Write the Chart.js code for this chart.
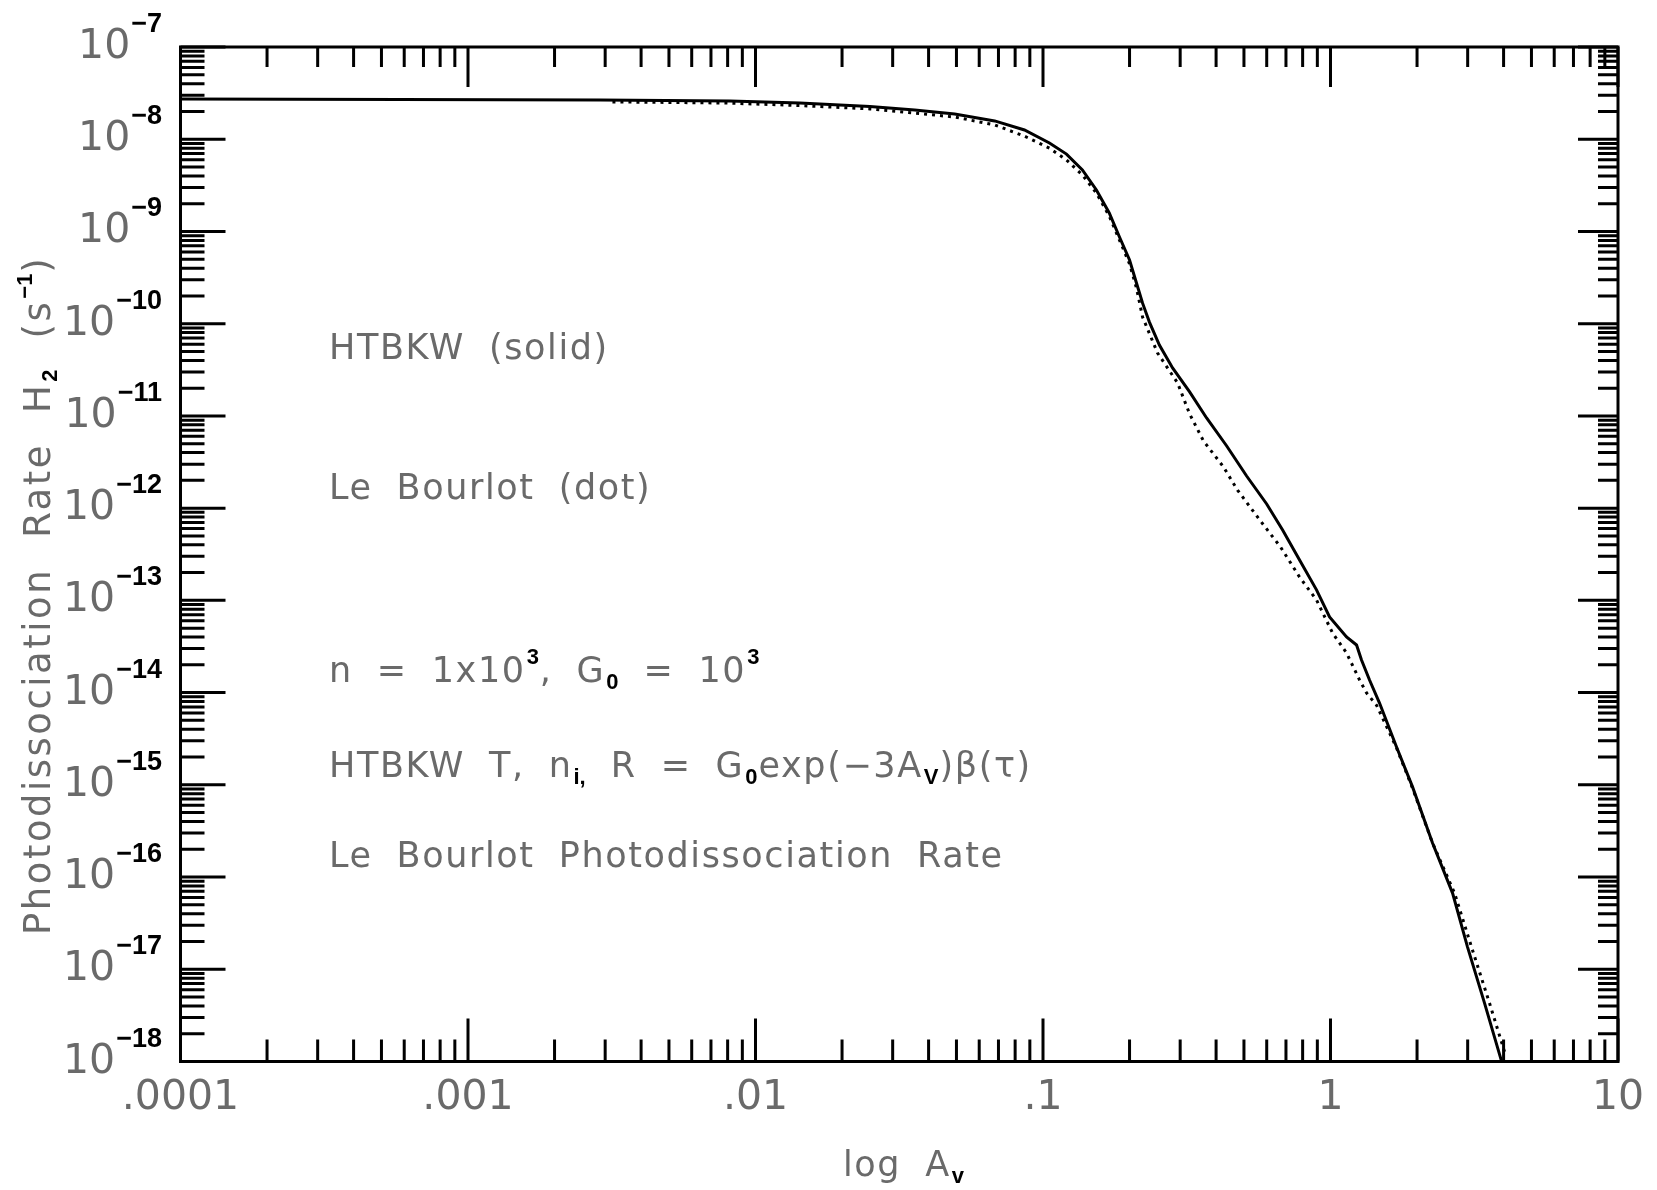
<!DOCTYPE html>
<html>
<head>
<meta charset="utf-8">
<script src="https://cdn.jsdelivr.net/npm/chart.js@4.4.0/dist/chart.umd.min.js"></script>
<style>
html,body{margin:0;padding:0;background:#fff;}
#wrap{width:1657px;height:1190px;position:relative;}
canvas{display:block;}
</style>
</head>
<body>
<div id="wrap"><canvas id="c" width="1657" height="1190"></canvas></div>
<script>
// ---------------- DATA ----------------
const xMin = 1e-4, xMax = 10;
const yMin = 1e-18, yMax = 1e-7;
const xTickLabels = ['.0001', '.001', '.01', '.1', '1', '10'];
const xTickValues = [1e-4, 1e-3, 1e-2, 1e-1, 1, 10];
const yTickExponents = [-7, -8, -9, -10, -11, -12, -13, -14, -15, -16, -17, -18];

// HTBKW (solid)
const htbkwAv = [1e-4, 5.8e-4, 2.88e-3, 8.15e-3, 0.01426, 0.025, 0.0358, 0.0493, 0.0679, 0.0862,
  0.1053, 0.1207, 0.1371, 0.1534, 0.170, 0.1845, 0.200, 0.2114, 0.222, 0.2345,
  0.254, 0.2823, 0.3236, 0.3707, 0.4355, 0.5108, 0.5998, 0.6814, 0.7805, 0.894,
  0.9924, 1.137, 1.232, 1.282, 1.367, 1.481, 1.697, 1.929, 2.264, 2.658,
  2.997, 3.434, 3.934];
const htbkwRate = [2.73e-8, 2.70e-8, 2.66e-8, 2.60e-8, 2.47e-8, 2.26e-8, 2.07e-8, 1.88e-8, 1.58e-8, 1.26e-8,
  9.1e-9, 6.9e-9, 4.64e-9, 2.82e-9, 1.585e-9, 8.7e-10, 4.91e-10, 2.76e-10, 1.67e-10, 1.04e-10,
  5.87e-11, 3.31e-11, 1.82e-11, 9.5e-12, 4.72e-12, 2.23e-12, 1.11e-12, 5.80e-13, 2.74e-13, 1.30e-13,
  6.6e-14, 4.01e-14, 3.28e-14, 2.26e-14, 1.37e-14, 7.7e-15, 2.57e-15, 9.5e-16, 2.34e-16, 6.7e-17,
  1.74e-17, 4.3e-18, 1.01e-18];

// Le Bourlot (dot)
const bourlotAv = [3.18e-3, 7.83e-3, 0.01426, 0.025, 0.0358, 0.0493, 0.0679, 0.0862, 0.1053, 0.1207,
  0.1371, 0.1534, 0.170, 0.1845, 0.200, 0.2114, 0.222, 0.2503, 0.2938, 0.3236,
  0.3616, 0.4246, 0.4748, 0.5572, 0.670, 0.7805, 0.894, 1.0165, 1.137, 1.262,
  1.335, 1.446, 1.697, 1.929, 2.264, 2.701, 3.094, 3.573, 4.062];
const bourlotRate = [2.54e-8, 2.47e-8, 2.32e-8, 2.13e-8, 1.92e-8, 1.74e-8, 1.43e-8, 1.08e-8, 8.0e-9, 5.96e-9,
  4.09e-9, 2.61e-9, 1.47e-9, 8.07e-10, 4.44e-10, 2.44e-10, 1.18e-10, 4.81e-11, 2.28e-11, 1.05e-11,
  5.35e-12, 2.79e-12, 1.57e-12, 8.02e-13, 3.79e-13, 1.79e-13, 1.01e-13, 4.43e-14, 2.69e-14, 1.37e-14,
  9.9e-15, 7.3e-15, 2.51e-15, 9.2e-16, 2.34e-16, 6.7e-17, 1.74e-17, 4.3e-18, 1.18e-18];

// Annotation texts: [text, kind] kind m=main, b=subscript, p=superscript, ' '=word gap
const noteLines = [
  [['HTBKW','m'],[' '],['(solid)','m']],
  [['Le','m'],[' '],['Bourlot','m'],[' '],['(dot)','m']],
  [['n','m'],[' '],['=','m'],[' '],['1x10','m'],['3','p'],[',','m'],[' '],['G','m'],['0','b'],[' '],['=','m'],[' '],['10','m'],['3','p']],
  [['HTBKW','m'],[' '],['T,','m'],[' '],['n','m'],['i,','b'],[' '],['R','m'],[' '],['=','m'],[' '],['G','m'],['0','b'],['exp(\u22123A','m'],['V','b'],[')\u03b2(\u03c4)','m']],
  [['Le','m'],[' '],['Bourlot','m'],[' '],['Photodissociation','m'],[' '],['Rate','m']]
];
const xTitle = [['log','m'],[' '],['A','m'],['v','b']];
const yTitle = [['Photodissociation','m'],[' '],['Rate','m'],[' '],['H','m'],['2','b'],[' '],['(s','m'],['\u22121','p'],[')','m']];

// ---------------- STYLE / LAYOUT ----------------
const GRAY = '#6a6a6a';
const SUB_FONT = 'bold 22px "Liberation Sans"';
const noteStyle = {font: '35px "DejaVu Sans"', ls: '1.6px', gap: 24};
const yTitleStyle = {font: '37px "DejaVu Sans"', ls: '2.5px', gap: 30};
const noteX = 329;
const noteBaselines = [359, 499, 682, 777, 867];

function drawRich(ctx, x, y, segs, st) {
  let cx = x;
  ctx.textAlign = 'left';
  ctx.textBaseline = 'alphabetic';
  for (const s of segs) {
    if (s[0] === ' ') { cx += st.gap; continue; }
    if (s[1] === 'm') {
      ctx.font = st.font; ctx.fillStyle = GRAY;
      try { ctx.letterSpacing = st.ls; } catch (e) {}
      ctx.fillText(s[0], cx, y);
      cx += ctx.measureText(s[0]).width;
    } else {
      ctx.font = SUB_FONT; ctx.fillStyle = '#000';
      try { ctx.letterSpacing = '0px'; } catch (e) {}
      const dy = s[1] === 'b' ? 7 : -18;
      ctx.fillText(s[0], cx + 1, y + dy);
      cx += ctx.measureText(s[0]).width + 2;
    }
  }
  try { ctx.letterSpacing = '0px'; } catch (e) {}
}

function decadeTicks(e0, e1) {
  const t = [];
  for (let e = e0; e < e1; e++) {
    for (let k = 1; k <= 9; k++) t.push({value: k * Math.pow(10, e), major: k === 1});
  }
  t.push({value: Math.pow(10, e1), major: true});
  return t;
}

const framePlugin = {
  id: 'frame',
  afterDraw(chart) {
    const ctx = chart.ctx;
    const a = chart.chartArea;
    const xs = chart.scales.x, ys = chart.scales.y;
    ctx.save();
    ctx.strokeStyle = '#000';
    ctx.lineWidth = 3;
    ctx.lineCap = 'butt';
    ctx.beginPath();
    for (const t of decadeTicks(-4, 1)) {
      const px = xs.getPixelForValue(t.value);
      const lb = t.major ? 43 : 22, lt = t.major ? 40 : 20;
      ctx.moveTo(px, a.bottom); ctx.lineTo(px, a.bottom - lb);
      ctx.moveTo(px, a.top); ctx.lineTo(px, a.top + lt);
    }
    for (const t of decadeTicks(-18, -7)) {
      const py = ys.getPixelForValue(t.value);
      const ll = t.major ? 45 : 24, lr = t.major ? 40 : 20;
      ctx.moveTo(a.left, py); ctx.lineTo(a.left + ll, py);
      ctx.moveTo(a.right, py); ctx.lineTo(a.right - lr, py);
    }
    ctx.stroke();
    ctx.strokeRect(a.left, a.top, a.right - a.left, a.bottom - a.top);

    // y tick labels 10^n
    const rightX = 162;
    for (const e of yTickExponents) {
      const py = ys.getPixelForValue(Math.pow(10, e));
      const expStr = '\u2212' + Math.abs(e);
      ctx.font = 'bold 27px "Liberation Sans"';
      const ew = ctx.measureText(expStr).width;
      ctx.fillStyle = '#000';
      ctx.textAlign = 'left';
      ctx.textBaseline = 'alphabetic';
      ctx.fillText(expStr, rightX - ew, py - 15);
      ctx.font = '41px "DejaVu Sans"';
      ctx.fillStyle = GRAY;
      const bw = ctx.measureText('10').width;
      ctx.fillText('10', rightX - ew - 1 - bw, py + 11);
    }

    // annotations
    noteLines.forEach((ln, i) => drawRich(ctx, noteX, noteBaselines[i], ln, noteStyle));
    // axis titles
    drawRich(ctx, 843, 1176, xTitle, noteStyle);
    ctx.translate(50, 935);
    ctx.rotate(-Math.PI / 2);
    drawRich(ctx, 0, 0, yTitle, yTitleStyle);
    ctx.restore();
  }
};

const toPts = (xs, ys) => xs.map((x, i) => ({x: x, y: ys[i]}));

new Chart(document.getElementById('c'), {
  type: 'line',
  data: {
    datasets: [
      {label: 'Le Bourlot (dot)', data: toPts(bourlotAv, bourlotRate), borderColor: '#000', borderWidth: 3,
       borderDash: [3, 5], pointRadius: 0, tension: 0, fill: false},
      {label: 'HTBKW (solid)', data: toPts(htbkwAv, htbkwRate), borderColor: '#000', borderWidth: 3,
       pointRadius: 0, tension: 0, fill: false}
    ]
  },
  options: {
    responsive: false,
    animation: false,
    devicePixelRatio: 1,
    layout: {padding: {left: 0, right: 39, top: 47, bottom: 0}},
    plugins: {legend: {display: false}, tooltip: {enabled: false}},
    scales: {
      x: {
        type: 'logarithmic', min: xMin, max: xMax,
        afterBuildTicks: s => { s.ticks = xTickValues.map(v => ({value: v, major: true})); },
        afterFit: s => { s.height = 128.5; },
        grid: {display: false, drawTicks: false},
        border: {display: false},
        ticks: {
          autoSkip: false, maxRotation: 0, minRotation: 0, padding: 12,
          color: GRAY, font: {family: 'DejaVu Sans', size: 41},
          callback: (v) => { const i = xTickValues.findIndex(t => Math.abs(Math.log10(t) - Math.log10(v)) < 1e-6); return i >= 0 ? xTickLabels[i] : ''; }
        }
      },
      y: {
        type: 'logarithmic', min: yMin, max: yMax,
        afterBuildTicks: s => { s.ticks = yTickExponents.map(e => ({value: Math.pow(10, e), major: true})); },
        afterFit: s => { s.width = 180.5; },
        grid: {display: false, drawTicks: false},
        border: {display: false},
        ticks: {display: false}
      }
    }
  },
  plugins: [framePlugin]
});
</script>
</body>
</html>
